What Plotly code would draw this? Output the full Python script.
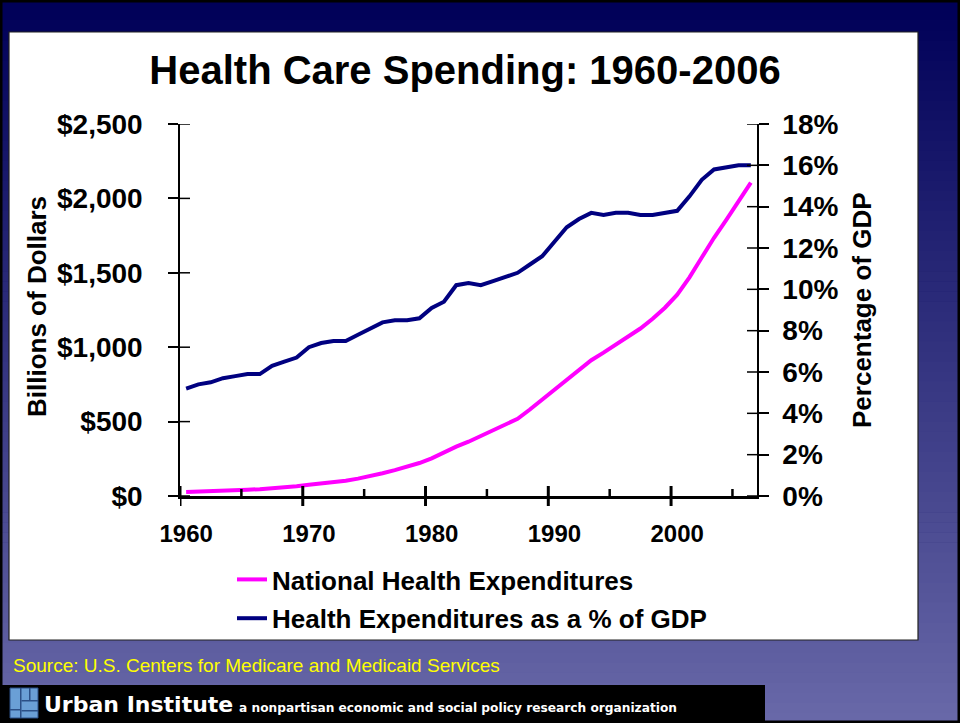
import plotly.graph_objects as go

# ---------------- data ----------------
years = [1960, 1961, 1962, 1963, 1964, 1965, 1966, 1967, 1968, 1969,
         1970, 1971, 1972, 1973, 1974, 1975, 1976, 1977, 1978, 1979,
         1980, 1981, 1982, 1983, 1984, 1985, 1986, 1987, 1988, 1989,
         1990, 1991, 1992, 1993, 1994, 1995, 1996, 1997, 1998, 1999,
         2000, 2001, 2002, 2003, 2004, 2005, 2006]

nhe_billions = [27.4, 29.4, 31.9, 34.7, 38.4, 41.9, 46.1, 51.6, 58.5, 65.9,
                74.9, 82.7, 92.7, 102.8, 116.5, 133.3, 152.7, 173.9, 195.5, 221.7,
                253.4, 294.2, 331.6, 364.9, 402.8, 438.9, 476.9, 518.9, 581.4, 647.5,
                714.1, 779.5, 848.5, 912.6, 963.5, 1016.5, 1068.2, 1125.4, 1190.9, 1265.2,
                1353.2, 1469.6, 1602.4, 1735.2, 1855.4, 1982.5, 2105.5]

gdp_share_pct = [5.2, 5.4, 5.5, 5.7, 5.8, 5.9, 5.9, 6.3, 6.5, 6.7,
                 7.2, 7.4, 7.5, 7.5, 7.8, 8.1, 8.4, 8.5, 8.5, 8.6,
                 9.1, 9.4, 10.2, 10.3, 10.2, 10.4, 10.6, 10.8, 11.2, 11.6,
                 12.3, 13.0, 13.4, 13.7, 13.6, 13.7, 13.7, 13.6, 13.6, 13.7,
                 13.8, 14.5, 15.3, 15.8, 15.9, 16.0, 16.0]

x_label_years = [1960, 1970, 1980, 1990, 2000]
x_major_ticks = [1959.5, 1969.5, 1979.5, 1989.5, 1999.5]
x_minor_ticks = [1964.5, 1974.5, 1984.5, 1994.5, 2004.5]

left_tickvals = [0, 500, 1000, 1500, 2000, 2500]
left_ticktext = ["$0", "$500", "$1,000", "$1,500", "$2,000", "$2,500"]
right_tickvals = [0, 2, 4, 6, 8, 10, 12, 14, 16, 18]
right_ticktext = ["0%", "2%", "4%", "6%", "8%", "10%", "12%", "14%", "16%", "18%"]

series_names = ["National Health Expenditures", "Health Expenditures as a % of GDP"]

# ---------------- layout helpers ----------------
W, H = 960, 723
L, R, T, B = 180, 757, 124, 496
PW, PH = R - L, B - T


def px(x):
    return (x - L) / PW


def py(y):
    return (B - y) / PH


FONT = "Liberation Sans, Arial, sans-serif"

fig = go.Figure()
fig.add_trace(go.Scatter(x=years, y=nhe_billions, name=series_names[0], mode="lines",
                         line=dict(color="#ff00ff", width=4), yaxis="y", xaxis="x",
                         legendgroup="a"))
fig.add_trace(go.Scatter(x=years, y=gdp_share_pct, name=series_names[1], mode="lines",
                         line=dict(color="#000080", width=4), yaxis="y2", xaxis="x",
                         legendgroup="b"))

shapes = []
# background gradient strips
n = 72
c0 = (0, 0, 88)
c1 = (104, 104, 168)
for i in range(n):
    t = i / (n - 1)
    col = tuple(int(round(c0[k] + (c1[k] - c0[k]) * t)) for k in range(3))
    y0 = i * H / n
    y1 = (i + 1) * H / n + 0.6
    shapes.append(dict(type="rect", xref="paper", yref="paper", layer="below",
                       x0=px(0), x1=px(W), y0=py(y0), y1=py(y1),
                       fillcolor="rgb(%d,%d,%d)" % col, line=dict(width=0)))
# white panel
shapes.append(dict(type="rect", xref="paper", yref="paper", layer="below",
                   x0=px(9), x1=px(918), y0=py(32), y1=py(640),
                   fillcolor="white", line=dict(color="#222222", width=1.2)))
# footer black bar
shapes.append(dict(type="rect", xref="paper", yref="paper", layer="below",
                   x0=px(0), x1=px(765), y0=py(685), y1=py(723),
                   fillcolor="black", line=dict(width=0)))
# logo
shapes.append(dict(type="rect", xref="paper", yref="paper", layer="below",
                   x0=px(10), x1=px(38), y0=py(688), y1=py(718),
                   fillcolor="#6a9fd6", line=dict(color="#2b4f86", width=1)))
for (a, b, c, d) in [(20, 21.5, 688, 718), (21.5, 38, 700, 701.5), (29, 30.5, 688, 700),
                     (10, 20, 709, 710.5), (21.5, 38, 710, 711.5)]:
    shapes.append(dict(type="rect", xref="paper", yref="paper", layer="below",
                       x0=px(a), x1=px(b), y0=py(c), y1=py(d),
                       fillcolor="#2b4f86", line=dict(width=0)))
# outer border
shapes.append(dict(type="rect", xref="paper", yref="paper", layer="below",
                   x0=px(1), x1=px(W - 1), y0=py(1), y1=py(H - 1),
                   fillcolor="rgba(0,0,0,0)", line=dict(color="black", width=3)))

# inner halves of the crossing tick marks (outer halves come from the axes)
for v in left_tickvals:
    shapes.append(dict(type="line", xref="paper", yref="y", x0=0, x1=px(L + 10), y0=v, y1=v,
                       line=dict(color="black", width=1.5), layer="above"))
for v in right_tickvals:
    shapes.append(dict(type="line", xref="paper", yref="y2", x0=px(R - 10), x1=1, y0=v, y1=v,
                       line=dict(color="black", width=1.5), layer="above"))
for v in x_major_ticks:
    shapes.append(dict(type="line", xref="x", yref="paper", x0=v, x1=v, y0=py(B + 10), y1=py(B - 10),
                       line=dict(color="black", width=3), layer="above"))
for v in x_minor_ticks:
    shapes.append(dict(type="line", xref="x", yref="paper", x0=v, x1=v, y0=0, y1=py(B - 7),
                       line=dict(color="black", width=2.5), layer="above"))

annotations = [
    dict(text="Billions of Dollars", x=px(37), y=py(307), xref="paper", yref="paper",
         textangle=-90, showarrow=False, xanchor="center", yanchor="middle",
         font=dict(family=FONT, size=26, color="black", weight="bold")),
    dict(text="Percentage of GDP", x=px(862), y=py(310), xref="paper", yref="paper",
         textangle=-90, showarrow=False, xanchor="center", yanchor="middle",
         font=dict(family=FONT, size=26, color="black", weight="bold")),
    dict(text="Source: U.S. Centers for Medicare and Medicaid Services", x=px(11), y=py(665),
         xref="paper", yref="paper", showarrow=False, xanchor="left", yanchor="middle",
         font=dict(family="Liberation Sans Narrow, Arial Narrow, Liberation Sans, sans-serif",
                   size=19, color="#ffff00")),
    dict(text="Urban Institute", x=px(42), y=py(704), xref="paper", yref="paper",
         showarrow=False, xanchor="left", yanchor="middle",
         font=dict(family="DejaVu Sans, sans-serif", size=22, color="white", weight="bold")),
    dict(text="a nonpartisan economic and social policy research organization", x=px(237), y=py(708),
         xref="paper", yref="paper", showarrow=False, xanchor="left", yanchor="middle",
         font=dict(family="DejaVu Sans, sans-serif", size=12.2, color="white", weight="bold")),
]

tick_font = dict(family=FONT, size=28, color="black", weight="bold")

fig.update_layout(
    width=W, height=H,
    margin=dict(l=L, r=W - R, t=T, b=H - B, pad=0, autoexpand=False),
    paper_bgcolor="rgb(0,0,88)",
    plot_bgcolor="rgba(0,0,0,0)",
    title=dict(text="Health Care Spending: 1960-2006", x=465 / W, xanchor="center",
               y=1 - 70 / H, yanchor="middle", yref="container", xref="container",
               font=dict(family=FONT, size=40, color="black", weight="bold")),
    showlegend=True,
    legend=dict(xref="container", yref="container", x=232 / W, y=1 - 556 / H,
                xanchor="left", yanchor="top", bgcolor="rgba(0,0,0,0)",
                traceorder="grouped", tracegroupgap=2,
                font=dict(family=FONT, size=26, color="black", weight="bold")),
    xaxis=dict(range=[1959.5, 2006.5], tickmode="array", tickvals=x_label_years,
               ticks="", showline=True, linecolor="black", linewidth=2.5, automargin=False,
               showgrid=False, zeroline=False, ticklabelstandoff=14,
               tickfont=dict(family=FONT, size=24, color="black", weight="bold"),
               fixedrange=True),
    yaxis=dict(range=[0, 2500], tickmode="array", tickvals=left_tickvals, ticktext=left_ticktext,
               ticks="outside", ticklen=10, tickwidth=1.5, tickcolor="black", automargin=False,
               showline=True, linecolor="black", linewidth=1.5,
               showgrid=False, zeroline=False, ticklabelstandoff=20,
               tickfont=tick_font, fixedrange=True),
    yaxis2=dict(overlaying="y", anchor="x", side="right", range=[0, 18], tickmode="array",
                tickvals=right_tickvals, ticktext=right_ticktext, automargin=False,
                ticks="outside", ticklen=10, tickwidth=1.5, tickcolor="black",
                showline=True, linecolor="black", linewidth=1.5,
                showgrid=False, zeroline=False, ticklabelstandoff=8,
                tickfont=tick_font, fixedrange=True),
    shapes=shapes,
    annotations=annotations,
)

fig.write_html("out.html", config={"displayModeBar": False},
               post_script="document.body.style.margin='0';document.body.style.overflow='hidden';")
